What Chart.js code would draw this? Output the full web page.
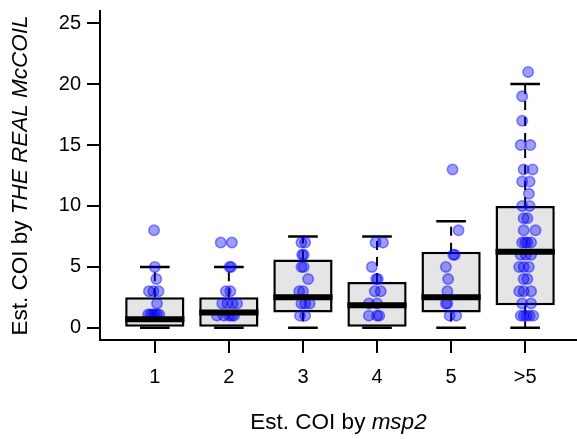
<!DOCTYPE html>
<html><head><meta charset="utf-8">
<script src="https://cdn.jsdelivr.net/npm/chart.js@4/dist/chart.umd.min.js"></script>
<style>html,body{margin:0;padding:0;background:#fff}#wrap{width:577px;height:439px;position:relative}</style>
</head><body><div id="wrap"><canvas id="c"></canvas></div>
<script>
// ---- data ----
const categories = ['1', '2', '3', '4', '5', '>5'];
const boxQ1      = [0,   0,    1.25, 0,    1.25, 1.85];
const boxMedian  = [0.7, 1.25, 2.5,  1.85, 2.5,  6.25];
const boxQ3      = [2.5, 2.5,  5.6,  3.75, 6.25, 10];
const whiskerLow  = [0, 0, 0, 0, 0, 0];
const whiskerHigh = [5, 5, 7.5, 7.5, 8.75, 20];
const yTickValues = [0, 5, 10, 15, 20, 25];

const g1Values = [8, 5, 4, 3, 3, 3, 2, 1.1, 1.1, 1.1, 1.1, 1.1, 1.1];
const g1Jitter = [-0.01, 0, 0.02, -0.08, -0.02, 0.05, 0.03, -0.09, -0.06, -0.03, 0, 0.03, 0.06];
const g2Values = [7, 7, 5, 5, 3, 3, 2, 2, 2, 2, 1, 1, 1, 1, 1];
const g2Jitter = [-0.11, 0.04, 0.01, 0.03, -0.04, 0.02, -0.09, -0.02, 0.05, 0.11, -0.16, -0.07, 0, 0.04, 0.07];
const g3Values = [7, 7, 6, 6, 5, 5, 4, 3, 3, 2, 2, 2, 1, 1];
const g3Jitter = [-0.02, 0.03, -0.01, 0.01, -0.02, 0.01, 0.07, -0.05, 0, -0.02, 0.03, 0.09, -0.04, 0.03];
const g4Values = [7, 7, 5, 4, 4, 3, 3, 2, 2, 1, 1, 1];
const g4Jitter = [-0.02, 0.08, -0.07, -0.01, 0.01, -0.03, 0.05, -0.11, 0, -0.11, 0, 0.03];
const g5Values = [13, 8, 6, 6, 5, 4, 3, 2, 2, 1, 1];
const g5Jitter = [0.02, 0.1, 0.03, 0.05, -0.07, -0.04, -0.05, -0.07, -0.05, -0.02, 0.07];
const g6Values = [21, 19, 17, 15, 15, 13, 13, 12, 12, 11, 10, 10, 9, 9, 8, 8, 7, 7, 7, 7, 6, 6, 6, 5, 5, 5, 4, 4, 3, 3, 3, 2, 2, 1, 1, 1, 1, 1];
const g6Jitter = [0.04, -0.04, -0.04, -0.06, 0.07, -0.02, 0.1, -0.04, 0.06, 0.05, -0.04, 0.06, -0.02, 0.03, -0.02, 0.14, -0.04, 0, 0.03, 0.08, -0.06, 0.01, 0.08, -0.08, -0.02, 0.05, -0.02, 0.03, -0.08, -0.02, 0.08, -0.04, 0.08, -0.06, -0.02, 0.02, 0.06, 0.11];

const xTitleParts = [['Est. COI by ', false], ['msp2', true]];
const yTitleParts = [['Est. COI by ', false], ['THE REAL McCOIL', true]];

// ---- build ----
const groupValues = [g1Values, g2Values, g3Values, g4Values, g5Values, g6Values];
const groupJitter = [g1Jitter, g2Jitter, g3Jitter, g4Jitter, g5Jitter, g6Jitter];
const BOX_HALF = 0.4, CAP_HALF = 0.2;
const FONT = "'Liberation Sans', Arial, Helvetica, sans-serif";

const boxData = categories.map((c, i) => ({x: i + 1, y: [boxQ1[i], boxQ3[i]]}));
const whiskerData = [], capData = [], medianData = [], pointData = [];
categories.forEach((c, i) => {
  const x = i + 1;
  whiskerData.push({x, y: boxQ3[i]}, {x, y: whiskerHigh[i]}, {x, y: null});
  whiskerData.push({x, y: boxQ1[i]}, {x, y: whiskerLow[i]}, {x, y: null});
  capData.push({x: x - CAP_HALF, y: whiskerHigh[i]}, {x: x + CAP_HALF, y: whiskerHigh[i]}, {x, y: null});
  capData.push({x: x - CAP_HALF, y: whiskerLow[i]}, {x: x + CAP_HALF, y: whiskerLow[i]}, {x, y: null});
  medianData.push({x: x - BOX_HALF, y: boxMedian[i]}, {x: x + BOX_HALF, y: boxMedian[i]}, {x, y: null});
  groupValues[i].forEach((v, k) => pointData.push({x: x + groupJitter[i][k], y: v}));
});

function drawMixed(ctx, parts, cx, cy, size) {
  const fonts = parts.map(p => (p[1] ? 'italic ' : '') + size + 'px ' + FONT);
  let total = 0;
  const widths = parts.map((p, k) => { ctx.font = fonts[k]; const w = ctx.measureText(p[0]).width; total += w; return w; });
  let x = cx - total / 2;
  ctx.fillStyle = '#000';
  ctx.textBaseline = 'middle';
  ctx.textAlign = 'left';
  parts.forEach((p, k) => { ctx.font = fonts[k]; ctx.fillText(p[0], x, cy); x += widths[k]; });
}

const axisTitles = {
  id: 'axisTitles',
  afterDraw(chart) {
    const ctx = chart.ctx, a = chart.chartArea;
    ctx.save();
    drawMixed(ctx, xTitleParts, (a.left + a.right) / 2, 423, 22.5);
    ctx.translate(21, (a.top + a.bottom) / 2);
    ctx.rotate(-Math.PI / 2);
    drawMixed(ctx, yTitleParts, 0, 0, 22.5);
    ctx.restore();
  }
};

const axisCommon = {
  grid: {drawOnChartArea: false, drawTicks: true, tickLength: 13, color: '#000', lineWidth: 2, offset: false},
  border: {display: true, color: '#000', width: 2}
};

new Chart(document.getElementById('c'), {
  type: 'bar',
  data: {
    datasets: [
      {type: 'bar', data: boxData, backgroundColor: '#e5e5e5', borderColor: '#000', borderWidth: 2.5,
       borderSkipped: false, barPercentage: 1, categoryPercentage: 0.8, order: 5},
      {type: 'scatter', data: whiskerData, showLine: true, spanGaps: false, pointRadius: 0,
       borderColor: '#000', borderWidth: 2, borderDash: [9, 7], order: 4},
      {type: 'scatter', data: capData, showLine: true, spanGaps: false, pointRadius: 0,
       borderColor: '#000', borderWidth: 2.5, order: 4},
      {type: 'scatter', data: pointData, pointRadius: 5.2, pointBorderWidth: 1.6,
       backgroundColor: 'rgba(0,0,255,0.38)', borderColor: 'rgba(0,0,255,0.45)', order: 2},
      {type: 'scatter', data: medianData, showLine: true, spanGaps: false, pointRadius: 0,
       borderColor: '#000', borderWidth: 6, borderCapStyle: 'butt', order: 1}
    ]
  },
  options: {
    responsive: true, maintainAspectRatio: false, animation: false, devicePixelRatio: 1,
    layout: {autoPadding: false, padding: {top: 11, right: 0, bottom: 0, left: 0}},
    plugins: {legend: {display: false}, tooltip: {enabled: false}},
    scales: {
      x: Object.assign({
        type: 'linear', min: 0.26, max: 6.70, offset: false,
        afterBuildTicks: s => { s.ticks = categories.map((c, i) => ({value: i + 1})); },
        afterFit: s => { s.height = 99; s.paddingLeft = 0; s.paddingRight = 0; },
        ticks: {autoSkip: false, maxRotation: 0, color: '#000', padding: 12,
                font: {family: FONT, size: 20},
                callback: v => categories[Math.round(v) - 1]}
      }, axisCommon),
      y: Object.assign({
        type: 'linear', min: -1, max: 26,
        afterBuildTicks: s => { s.ticks = yTickValues.map(v => ({value: v})); },
        afterFit: s => { s.width = 100; s.paddingTop = 0; s.paddingBottom = 0; },
        ticks: {color: '#000', padding: 6, font: {family: FONT, size: 20}}
      }, axisCommon)
    }
  },
  plugins: [axisTitles]
});
</script></body></html>
